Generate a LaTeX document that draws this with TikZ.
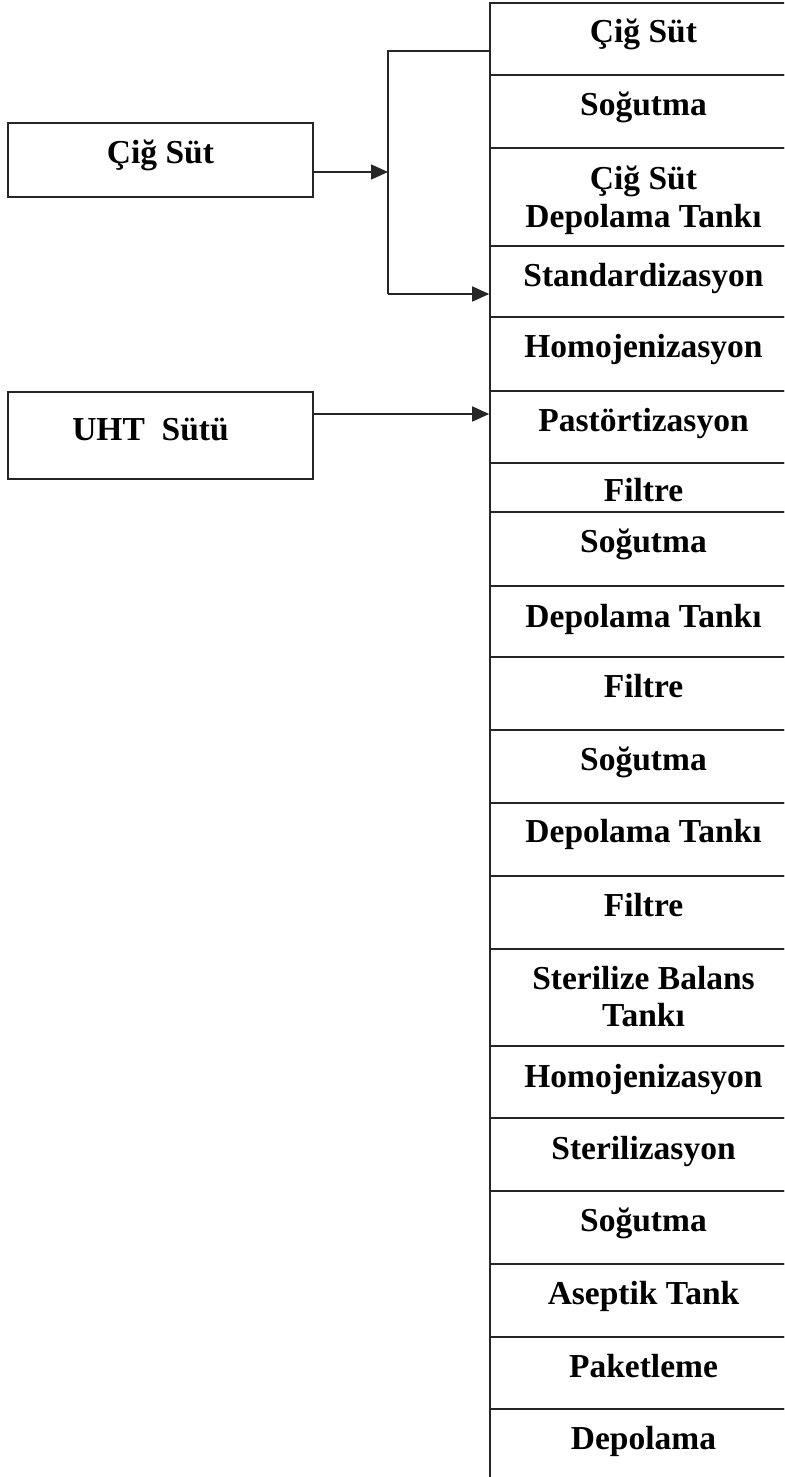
\documentclass[tikz,border=0pt]{standalone}
\usepackage{fontspec}
\setmainfont{Liberation Serif}
\usetikzlibrary{arrows.meta}
\begin{document}
\begin{tikzpicture}[x=1pt,y=1pt,
  ln/.style={line width=1.6pt, draw=black!85},
  arr/.style={ln, -{Triangle[length=17pt,width=15pt]}},
  rowbox/.style={ln, rectangle, inner sep=0pt, minimum width=307pt},
  sidebox/.style={ln, rectangle, inner sep=0pt, minimum width=305pt},
  lbl/.style={anchor=base, inner sep=0pt, font=\fontsize{33.5}{37}\selectfont\bfseries}
]
\useasboundingbox (0,0) rectangle (784,-1477);
\clip (0,0) rectangle (784,-1477);
% column rows: name / top / bottom
\foreach \n/\t/\b in {r1/3/75, r2/75/148, r3/148/246, r4/246/317, r5/317/391,
  r6/391/463, r7/463/512, r8/512/586, r9/586/657, r10/657/730, r11/730/803,
  r12/803/876, r13/876/949, r14/949/1046, r15/1046/1118, r16/1118/1191,
  r17/1191/1264, r18/1264/1337, r19/1337/1409, r20/1409/1500}{
  \pgfmathsetmacro\h{\b-\t}
  \pgfmathsetmacro\c{-(\t+\b)/2}
  \node[rowbox, minimum height=\h pt] (\n) at (643.5,\c) {};
}
% row texts
\node[lbl] (t1) at ([yshift=-40pt]r1.north) {Çiğ Süt};
\node[lbl] (t2) at ([yshift=-41pt]r2.north) {Soğutma};
\node[lbl] (t3a) at ([yshift=-42pt]r3.north) {Çiğ Süt};
\node[lbl] (t3b) at ([yshift=-80pt]r3.north) {Depolama Tankı};
\node[lbl] (t4) at ([yshift=-41pt]r4.north) {Standardizasyon};
\node[lbl] (t5) at ([yshift=-41pt]r5.north) {Homojenizasyon};
\node[lbl] (t6) at ([yshift=-41pt]r6.north) {Pastörtizasyon};
\node[lbl] (t7) at ([yshift=-39pt]r7.north) {Filtre};
\node[lbl] (t8) at ([yshift=-41pt]r8.north) {Soğutma};
\node[lbl] (t9) at ([yshift=-42pt]r9.north) {Depolama Tankı};
\node[lbl] (t10) at ([yshift=-41pt]r10.north) {Filtre};
\node[lbl] (t11) at ([yshift=-41pt]r11.north) {Soğutma};
\node[lbl] (t12) at ([yshift=-40pt]r12.north) {Depolama Tankı};
\node[lbl] (t13) at ([yshift=-41pt]r13.north) {Filtre};
\node[lbl] (t14a) at ([yshift=-41pt]r14.north) {Sterilize Balans};
\node[lbl] (t14b) at ([yshift=-78pt]r14.north) {Tankı};
\node[lbl] (t15) at ([yshift=-42pt]r15.north) {Homojenizasyon};
\node[lbl] (t16) at ([yshift=-42pt]r16.north) {Sterilizasyon};
\node[lbl] (t17) at ([yshift=-41pt]r17.north) {Soğutma};
\node[lbl] (t18) at ([yshift=-41pt]r18.north) {Aseptik Tank};
\node[lbl] (t19) at ([yshift=-41pt]r19.north) {Paketleme};
\node[lbl] (t20) at ([yshift=-41pt]r20.north) {Depolama};
% side boxes
\node[sidebox, minimum height=74pt] (cig) at (160.5,-160) {};
\node[lbl] (tcig) at ([yshift=-41pt]cig.north) {Çiğ Süt};
\node[sidebox, minimum height=87pt] (uht) at (160.5,-435.5) {};
\node[lbl] (tuht) at (150.5,-440) {UHT\ \ Sütü};
% connectors
\coordinate (j1) at (388,-172);
\coordinate (jt) at (388,-51);
\coordinate (jb) at (388,-294);
\coordinate (j2) at (388,-414);
\draw[arr] (cig.east |- j1) -- (j1);
\draw[ln] (r1.west |- jt) -- (jt) -- (jb);
\draw[arr] (jb) -- (jb -| r4.west);
\draw[arr] (uht.east |- j2) -- (j2 -| r6.west);
\end{tikzpicture}
\end{document}
